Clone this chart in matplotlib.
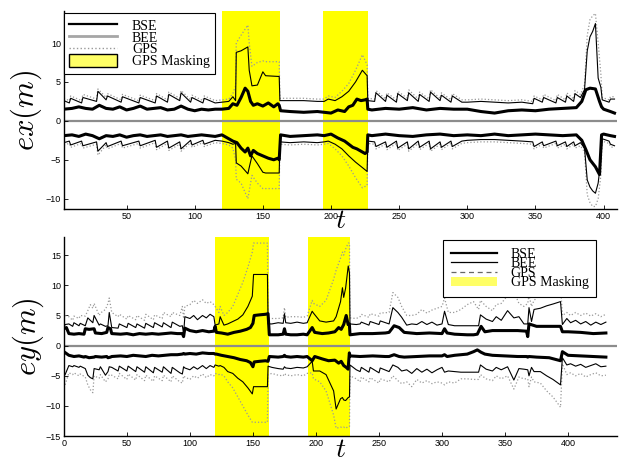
import matplotlib
matplotlib.use("Agg")
import matplotlib.pyplot as plt
from matplotlib.lines import Line2D
from matplotlib.patches import Patch

plt.rcParams["mathtext.fontset"] = "cm"
plt.rcParams["font.family"] = "Liberation Sans"

# ---- masking intervals (same in both panels)
mask_spans = [(120, 162.5), (194, 227)]

# ---- top panel (ex): BEE / GPS envelopes
t_ex = [4, 8, 9, 17, 18, 28, 29, 35, 36, 46,
        47, 59, 60, 71, 72, 80, 81, 89, 90, 97,
        98, 106, 107, 115, 120, 125, 128, 130, 130.5, 134,
        139, 140, 142, 146, 150, 152, 162, 162.5, 170, 180,
        190, 195, 198, 203, 208, 213, 218, 223, 226.5, 227,
        232, 233, 240, 241, 248, 249, 256, 257, 264, 265,
        272, 273, 280, 281, 288, 289, 296, 300, 310, 320,
        330, 340, 348, 349, 355, 356, 365, 366, 372, 373,
        378, 379, 383, 386, 388, 390, 392, 394, 396, 398,
        399, 404, 405, 408]
bee_up_ex = [2.6, 2.3, 2.9, 2.3, 3.0, 2.5, 3.8, 2.7, 3.2, 2.4,
             3.1, 2.3, 3.0, 2.3, 3.2, 2.4, 3.4, 2.6, 3.6, 2.4,
             3.0, 2.3, 2.9, 2.3, 2.4, 2.5, 3.1, 2.6, 8.8, 9.0,
             9.5, 6.5, 4.5, 4.6, 6.3, 5.8, 5.7, 2.6, 2.6, 2.6,
             2.5, 2.5, 2.8, 2.6, 3.1, 3.8, 5.0, 6.5, 5.8, 2.6,
             2.5, 3.6, 2.5, 3.3, 2.4, 3.5, 2.6, 3.6, 2.5, 3.4,
             2.5, 3.7, 2.6, 3.3, 2.4, 3.2, 2.4, 2.4, 2.5, 2.4,
             2.3, 2.4, 2.2, 2.9, 2.4, 3.0, 2.3, 3.0, 2.4, 3.2,
             2.5, 3.5, 3.0, 4.0, 9.0, 10.8, 11.5, 12.5, 5.5, 4.3,
             2.7, 2.4, 2.8, 2.8]
bee_lo_ex = [-2.8, -2.6, -3.1, -2.6, -3.2, -2.7, -3.9, -2.8, -3.3, -2.6,
             -3.2, -2.6, -3.2, -2.5, -3.4, -2.6, -3.5, -2.7, -3.6, -2.5,
             -3.1, -2.5, -3.0, -2.5, -2.6, -2.8, -3.0, -2.9, -5.4, -5.8,
             -6.8, -6.0, -4.5, -5.5, -6.6, -6.7, -6.7, -2.7, -2.8, -2.7,
             -2.8, -2.7, -2.6, -3.0, -3.6, -4.5, -5.3, -6.0, -6.5, -2.6,
             -2.7, -3.3, -2.7, -3.4, -2.6, -3.5, -2.7, -3.6, -2.6, -3.4,
             -2.6, -3.6, -2.7, -3.4, -2.6, -3.3, -2.6, -2.5, -2.4, -2.4,
             -2.5, -2.6, -2.7, -3.3, -2.7, -3.2, -2.6, -3.2, -2.7, -3.3,
             -2.7, -3.2, -2.8, -3.5, -7.6, -8.5, -9.0, -9.3, -8.0, -5.0,
             -2.3, -2.6, -3.0, -3.2]
gps_up_ex = [2.9, 2.6, 3.2, 2.6, 3.4, 2.8, 4.1, 3.0, 3.5, 2.7,
             3.4, 2.6, 3.3, 2.6, 3.5, 2.7, 3.7, 2.9, 3.9, 2.7,
             3.3, 2.6, 3.2, 2.6, 2.7, 2.8, 3.5, 4.5, 10.0, 11.0,
             12.3, 10.0, 7.0, 7.5, 7.7, 7.6, 7.6, 2.9, 2.9, 2.9,
             2.8, 2.8, 3.2, 3.0, 3.8, 4.8, 6.5, 8.5, 7.2, 2.9,
             2.8, 3.9, 2.8, 3.6, 2.7, 3.8, 2.9, 4.0, 2.8, 3.7,
             2.8, 4.0, 2.9, 3.6, 2.7, 3.5, 2.7, 2.7, 2.8, 2.7,
             2.6, 2.7, 2.5, 3.2, 2.7, 3.4, 2.6, 3.4, 2.7, 3.6,
             2.8, 3.9, 3.4, 4.6, 11.0, 13.0, 13.5, 13.8, 10.0, 6.0,
             3.0, 2.7, 3.1, 3.1]
gps_lo_ex = [-3.1, -2.9, -3.4, -2.9, -3.5, -3.0, -4.4, -3.1, -3.6, -2.9,
             -3.5, -2.9, -3.5, -2.8, -3.7, -2.9, -3.8, -3.0, -3.9, -2.8,
             -3.4, -2.8, -3.3, -2.8, -2.9, -3.1, -3.5, -5.0, -7.5, -8.0,
             -10.0, -9.0, -7.0, -8.0, -8.7, -8.7, -8.7, -3.0, -3.1, -3.0,
             -3.1, -3.0, -2.9, -3.6, -4.5, -5.8, -7.3, -8.6, -8.3, -2.9,
             -3.0, -3.6, -3.0, -3.7, -2.9, -3.8, -3.0, -3.9, -2.9, -3.7,
             -2.9, -3.9, -3.0, -3.7, -2.9, -3.6, -2.9, -2.8, -2.7, -2.7,
             -2.8, -2.9, -3.0, -3.6, -3.0, -3.5, -2.9, -3.5, -3.0, -3.6,
             -3.0, -3.5, -3.2, -4.0, -9.5, -10.5, -11.0, -11.0, -10.0, -7.0,
             -2.6, -2.9, -3.3, -3.5]

# ---- top panel (ex): BSE envelope
t_ex_bse = [4, 10, 15, 20, 25, 30, 35, 40, 45, 50,
            55, 60, 65, 70, 75, 80, 85, 90, 95, 100,
            105, 110, 115, 120, 125, 128, 131, 134, 137, 139,
            141, 143, 146, 150, 154, 158, 161, 162, 163, 170,
            180, 190, 195, 200, 205, 210, 213, 216, 219, 222,
            225, 226.5, 227, 230, 240, 250, 260, 270, 280, 290,
            300, 310, 320, 330, 340, 350, 360, 370, 380, 384,
            387, 390, 394, 397, 398.5, 400, 405, 408]
bse_up_ex = [1.5, 1.6, 1.8, 1.6, 1.5, 2.0, 1.6, 1.5, 1.8, 1.4,
             1.6, 1.9, 1.5, 1.6, 1.7, 1.4, 1.5, 1.9, 1.5, 1.3,
             1.5, 1.4, 1.5, 1.5, 1.6, 2.2, 2.0, 3.0, 4.2, 3.8,
             2.5, 2.0, 2.2, 1.9, 2.3, 1.8, 2.2, 2.0, 1.3, 1.2,
             1.1, 1.2, 1.1, 1.0, 1.4, 1.2, 1.8, 2.0, 2.8, 2.6,
             2.7, 2.8, 1.5, 1.4, 1.6, 1.5, 1.7, 1.4, 1.6, 1.5,
             1.5, 1.2, 1.0, 1.3, 1.4, 1.3, 1.5, 1.6, 1.7, 2.5,
             4.0, 4.2, 4.1, 2.5, 1.8, 1.5, 1.2, 1.0]
bse_lo_ex = [-1.9, -1.8, -2.0, -1.7, -1.9, -2.3, -1.9, -2.0, -1.8, -2.1,
             -1.9, -1.8, -2.0, -1.9, -1.8, -2.0, -1.9, -1.8, -2.0, -1.9,
             -1.8, -1.9, -2.0, -1.8, -2.3, -2.6, -2.8, -3.5, -4.0, -3.5,
             -4.5, -3.8, -4.2, -4.5, -4.8, -5.0, -4.8, -5.0, -1.8, -2.0,
             -1.9, -1.8, -1.9, -1.7, -2.2, -2.6, -3.0, -3.4, -3.6, -3.9,
             -4.2, -4.0, -1.8, -1.9, -1.7, -1.9, -2.0, -1.8, -1.7, -1.9,
             -1.8, -1.9, -1.7, -1.9, -1.8, -1.7, -1.8, -1.9, -1.8, -2.5,
             -3.7, -5.0, -5.9, -6.9, -1.8, -1.7, -1.9, -2.0]

# ---- bottom panel (ey): BEE / GPS envelopes
t_ey = [0, 1, 4, 7, 8, 12, 13, 17, 19, 21,
        23, 24, 28, 29, 33, 35, 36, 38, 43, 44,
        50, 51, 57, 58, 64, 65, 71, 72, 78, 79,
        85, 86, 92, 94, 95, 96, 100, 103, 106, 110,
        113, 116, 119, 120, 123, 124, 127, 130, 134, 138,
        142, 146, 149.5, 150.5, 155, 161.5, 162, 165, 170, 174,
        175, 176, 180, 185, 190, 193, 197, 198, 203, 208,
        214, 216, 219.5, 221, 222, 223.5, 225.6, 226.6, 227, 232,
        235, 236, 242, 243, 250, 251, 258, 261, 265, 268,
        272, 276, 280, 284, 288, 292, 296, 300, 302, 305,
        310, 315, 320, 325, 329, 330.5, 335, 340, 343, 347,
        352, 357, 361, 365, 368, 369, 371, 373, 378, 383,
        388, 394, 395.5, 399, 402, 406, 410, 414, 418, 422,
        426, 430]
bee_up_ey = [3.0, 3.5, 3.6, 3.2, 3.8, 3.3, 3.7, 3.3, 4.6, 4.2,
             3.8, 5.0, 3.4, 3.6, 3.2, 3.3, 5.5, 3.0, 2.9, 3.6,
             3.0, 3.7, 3.0, 3.6, 2.9, 3.7, 3.0, 3.8, 3.1, 3.8,
             3.0, 3.9, 3.2, 3.3, 2.0, 4.8, 4.5, 5.0, 4.3, 5.0,
             4.6, 5.2, 4.8, 3.4, 3.6, 4.8, 3.4, 3.6, 4.0, 4.4,
             5.1, 6.5, 8.2, 11.8, 11.8, 11.8, 3.6, 3.6, 3.8, 3.7,
             5.3, 3.8, 3.7, 3.9, 3.7, 3.8, 5.7, 5.4, 4.1, 3.9,
             4.1, 4.8, 7.3, 9.6, 8.0, 9.5, 13.2, 12.0, 3.6, 3.5,
             3.6, 3.9, 3.4, 4.0, 3.5, 4.1, 3.6, 6.3, 5.5, 4.7,
             3.4, 3.6, 3.5, 4.0, 3.5, 3.9, 3.4, 3.6, 5.7, 3.5,
             3.3, 3.3, 3.3, 3.3, 3.3, 5.1, 4.4, 4.0, 4.8, 4.2,
             5.8, 4.6, 4.8, 3.6, 3.6, 6.3, 4.0, 6.0, 6.2, 6.6,
             6.9, 7.3, 3.5, 4.5, 3.8, 4.2, 3.6, 4.0, 3.4, 3.9,
             3.5, 3.9]
bee_lo_ey = [-5.0, -4.8, -3.3, -3.5, -3.3, -3.6, -3.4, -3.8, -4.9, -5.3,
             -5.5, -3.8, -4.0, -3.5, -4.9, -4.3, -3.5, -3.6, -4.2, -3.4,
             -4.2, -3.4, -4.3, -3.5, -4.4, -3.5, -4.5, -3.6, -4.4, -3.5,
             -4.6, -3.6, -4.5, -4.7, -3.5, -3.7, -4.0, -3.5, -3.9, -3.3,
             -3.8, -3.3, -3.6, -3.2, -3.4, -3.3, -3.6, -4.3, -4.6, -5.4,
             -6.0, -7.0, -8.0, -6.8, -6.8, -6.8, -3.4, -3.6, -3.8, -3.9,
             -3.5, -3.7, -3.8, -3.6, -3.7, -3.5, -2.6, -4.2, -4.2, -4.8,
             -7.5, -10.5, -8.8, -8.6, -9.0, -9.1, -8.6, -8.5, -3.2, -4.0,
             -4.3, -3.6, -4.4, -3.6, -4.5, -3.7, -4.3, -3.2, -3.6, -4.2,
             -4.0, -4.6, -3.8, -4.4, -3.9, -4.5, -4.0, -3.6, -4.4, -4.2,
             -4.3, -4.4, -4.4, -4.4, -4.4, -3.2, -3.9, -4.2, -3.6, -4.0,
             -3.5, -5.7, -3.8, -3.9, -4.0, -5.0, -3.6, -4.3, -4.3, -5.0,
             -5.6, -6.5, -2.0, -3.2, -3.0, -3.4, -3.1, -3.6, -3.3, -3.0,
             -3.5, -3.4]
gps_up_ey = [4.5, 5.0, 4.8, 4.2, 4.9, 4.5, 5.0, 4.9, 5.8, 6.8,
             6.2, 7.0, 5.0, 5.4, 6.0, 7.0, 7.9, 5.5, 4.8, 5.2,
             4.4, 5.0, 4.3, 5.0, 4.2, 5.2, 4.3, 5.1, 4.5, 5.5,
             4.8, 5.5, 5.0, 6.5, 4.5, 6.5, 6.8, 7.5, 7.0, 7.6,
             7.0, 7.3, 6.8, 6.5, 5.5, 6.5, 5.0, 5.5, 6.5, 8.5,
             10.5, 13.0, 15.5, 17.0, 17.0, 17.0, 4.6, 4.5, 4.5, 4.6,
             6.3, 4.7, 4.8, 4.8, 4.7, 4.9, 7.5, 7.0, 6.5, 7.5,
             11.0, 12.5, 14.5, 15.5, 15.0, 16.0, 17.0, 17.0, 4.6, 4.5,
             4.8, 5.2, 4.7, 5.3, 4.9, 5.4, 5.5, 8.8, 8.0, 6.5,
             5.0, 5.0, 5.2, 6.0, 5.4, 5.9, 6.2, 6.5, 7.9, 5.5,
             5.5, 6.0, 6.8, 7.3, 6.0, 7.5, 6.5, 5.8, 6.8, 7.0,
             8.3, 9.0, 7.0, 6.5, 7.0, 8.4, 6.5, 7.5, 8.5, 9.0,
             9.5, 10.1, 5.0, 5.5, 5.0, 5.5, 5.0, 5.4, 4.9, 5.3,
             4.8, 5.2]
gps_lo_ey = [-6.0, -6.5, -4.5, -4.8, -4.5, -5.0, -4.7, -5.2, -6.5, -7.3,
             -7.8, -5.0, -5.4, -4.8, -6.0, -5.5, -4.8, -4.9, -5.5, -4.6,
             -5.6, -4.7, -5.7, -4.8, -5.8, -4.9, -5.9, -5.0, -5.8, -4.9,
             -6.0, -5.0, -6.0, -6.2, -5.0, -5.2, -5.6, -5.0, -5.4, -4.7,
             -5.3, -4.8, -5.0, -4.6, -4.8, -4.7, -5.0, -6.0, -7.0, -8.5,
             -10.0, -11.5, -12.7, -12.7, -12.7, -12.7, -4.8, -4.6, -4.9, -5.0,
             -4.6, -4.8, -5.0, -4.8, -5.0, -4.6, -4.5, -5.5, -6.0, -7.5,
             -11.5, -13.7, -13.5, -13.6, -13.5, -13.7, -13.4, -13.4, -5.0, -5.5,
             -6.0, -5.2, -6.0, -5.3, -6.2, -5.5, -6.0, -5.0, -5.8, -6.3,
             -6.0, -6.8, -5.6, -6.2, -5.8, -6.3, -6.0, -6.2, -6.5, -6.0,
             -6.2, -5.5, -5.5, -5.6, -5.6, -4.8, -5.5, -5.8, -5.0, -5.5,
             -5.0, -7.2, -5.2, -5.5, -5.5, -6.8, -5.2, -6.0, -6.2, -7.5,
             -8.5, -10.2, -3.0, -4.8, -4.5, -5.0, -4.6, -5.2, -4.8, -4.5,
             -5.0, -4.9]

# ---- bottom panel (ey): BSE envelope
t_ey_bse = [0, 2, 4, 8, 12, 16, 17, 20, 24, 25,
            30, 34, 35, 37, 38, 45, 50, 55, 60, 65,
            70, 75, 80, 85, 90, 94, 95, 96, 100, 105,
            110, 115, 119, 120, 121, 125, 130, 135, 140, 145,
            148, 150, 151, 155, 160, 162, 163, 170, 174, 175,
            176, 180, 185, 190, 193, 197, 199, 205, 210, 215,
            218, 220, 222, 224, 225.5, 226.5, 227, 235, 245, 255,
            258, 262, 266, 270, 280, 290, 300, 302, 304, 310,
            320, 325, 328, 331, 334, 340, 350, 360, 367, 368,
            369, 375, 385, 394, 395.5, 400, 410, 420, 430]
bse_up_ey = [2.8, 3.0, 2.0, 1.9, 2.0, 1.9, 2.8, 2.7, 2.8, 2.1,
             2.0, 2.2, 3.0, 2.8, 2.0, 1.9, 2.0, 1.8, 2.0, 1.9,
             2.0, 1.9, 2.0, 2.1, 2.0, 2.0, 1.5, 2.9, 2.5, 2.3,
             2.5, 2.3, 2.4, 3.2, 2.2, 2.1, 1.9, 2.2, 2.4, 2.7,
             3.0, 3.7, 5.0, 5.1, 5.2, 5.3, 1.8, 1.8, 1.9, 2.8,
             1.9, 1.8, 1.8, 1.9, 1.8, 3.0, 2.2, 2.0, 2.1, 2.3,
             3.0, 2.7, 3.5, 5.0, 3.5, 3.6, 1.8, 2.0, 2.0, 2.1,
             2.2, 3.3, 3.0, 2.2, 2.0, 2.1, 2.0, 2.8, 2.1, 1.9,
             1.8, 1.8, 1.9, 3.2, 2.3, 2.5, 2.5, 2.5, 2.4, 1.5,
             3.6, 3.2, 3.2, 3.2, 2.3, 2.3, 2.2, 2.0, 2.1]
bse_lo_ey = [-1.0, -1.3, -1.6, -1.8, -1.7, -1.9, -1.8, -2.0, -1.9, -1.8,
             -1.9, -1.8, -2.0, -1.9, -1.8, -1.7, -1.8, -1.6, -1.7, -1.8,
             -1.6, -1.7, -1.6, -1.5, -1.5, -1.4, -1.3, -1.4, -1.3, -1.4,
             -1.2, -1.3, -1.3, -1.4, -1.4, -1.6, -1.8, -2.0, -2.3, -2.5,
             -2.8, -3.5, -2.7, -2.6, -2.5, -2.6, -1.8, -1.9, -1.8, -1.6,
             -1.8, -1.9, -1.8, -1.9, -1.8, -2.5, -1.8, -2.2, -2.5, -2.4,
             -2.9, -2.6, -3.3, -3.6, -3.9, -1.2, -1.7, -1.8, -1.7, -1.8,
             -1.8, -1.5, -1.8, -1.9, -1.8, -1.7, -1.7, -1.5, -1.8, -1.6,
             -1.4, -1.0, -0.7, -1.1, -1.4, -1.6, -1.7, -1.8, -1.8, -1.9,
             -1.8, -1.9, -2.0, -2.5, -1.0, -1.6, -1.7, -1.8, -1.9]

legend_labels = ["BSE", "BEE", "GPS", "GPS Masking"]

YELLOW = "#ffff00"
GPS_C = "0.6"

fig = plt.figure(figsize=(6.26, 4.63), dpi=100)
ax1 = fig.add_axes([0.102, 0.549, 0.884, 0.427])
ax2 = fig.add_axes([0.102, 0.058, 0.884, 0.430])


def draw_panel(ax, t, bee_up, bee_lo, gps_up, gps_lo, tb, bse_up, bse_lo):
    for a, b in mask_spans:
        ax.axvspan(a, b, color=YELLOW, lw=0, zorder=0)
    ax.axhline(0, color="0.55", lw=1.6, zorder=1)
    ax.plot(t, gps_up, color=GPS_C, ls=":", lw=0.9, zorder=2)
    ax.plot(t, gps_lo, color=GPS_C, ls=":", lw=0.9, zorder=2)
    ax.plot(t, bee_up, color="k", lw=0.8, zorder=3)
    ax.plot(t, bee_lo, color="k", lw=0.8, zorder=3)
    ax.plot(tb, bse_up, color="k", lw=2.2, zorder=4)
    ax.plot(tb, bse_lo, color="k", lw=2.2, zorder=4)
    for s in ("top", "right"):
        ax.spines[s].set_visible(False)
    ax.spines["left"].set_linewidth(1.0)
    ax.spines["bottom"].set_linewidth(1.0)
    ax.tick_params(direction="in", length=3, labelsize=6.5, width=0.6, pad=2)


draw_panel(ax1, t_ex, bee_up_ex, bee_lo_ex, gps_up_ex, gps_lo_ex,
           t_ex_bse, bse_up_ex, bse_lo_ex)
draw_panel(ax2, t_ey, bee_up_ey, bee_lo_ey, gps_up_ey, gps_lo_ey,
           t_ey_bse, bse_up_ey, bse_lo_ey)

ax1.set_xlim(4, 410)
ax1.set_ylim(-11.3, 14.1)
ax1.set_xticks(range(50, 401, 50))
ax1.set_yticks([-10, -5, 0, 5, 10])
ax2.set_xlim(0, 439)
ax2.set_ylim(-15, 18)
ax2.set_xticks(range(0, 401, 50))
ax2.set_yticks(range(-15, 16, 5))

ax1.set_ylabel("$ex(m)$", fontsize=22, labelpad=1)
ax2.set_ylabel("$ey(m)$", fontsize=22, labelpad=0)
ax1.set_xlabel("$t$", fontsize=20, labelpad=-9)
ax2.set_xlabel("$t$", fontsize=20, labelpad=-8)

serif = {"family": "Liberation Serif", "size": 10}
h1 = [Line2D([], [], color="k", lw=1.6),
      Line2D([], [], color="0.65", lw=2.0),
      Line2D([], [], color="0.6", ls=":", lw=1.0),
      Patch(facecolor="#ffff66", edgecolor="k", lw=1.0)]
leg1 = ax1.legend(h1, legend_labels, loc="upper left",
                  bbox_to_anchor=(0.0, 0.99), prop=serif, handlelength=3.4,
                  handleheight=1.0, labelspacing=-0.15, borderpad=0.4,
                  handletextpad=1.1, fancybox=False, framealpha=1,
                  edgecolor="k", borderaxespad=0)
leg1.get_frame().set_linewidth(0.8)

h2 = [Line2D([], [], color="k", lw=1.6),
      Line2D([], [], color="k", lw=0.9),
      Line2D([], [], color="0.4", ls=(0, (4, 3)), lw=0.9),
      Patch(facecolor="#ffff66", edgecolor="none")]
leg2 = ax2.legend(h2, legend_labels, loc="upper right",
                  bbox_to_anchor=(0.962, 0.985), prop=serif, handlelength=3.3,
                  labelspacing=-0.25, borderpad=0.55, handletextpad=1.0,
                  fancybox=False, framealpha=1, edgecolor="k", borderaxespad=0)
leg2.get_frame().set_linewidth(0.8)

fig.savefig("out.png", dpi=100)
